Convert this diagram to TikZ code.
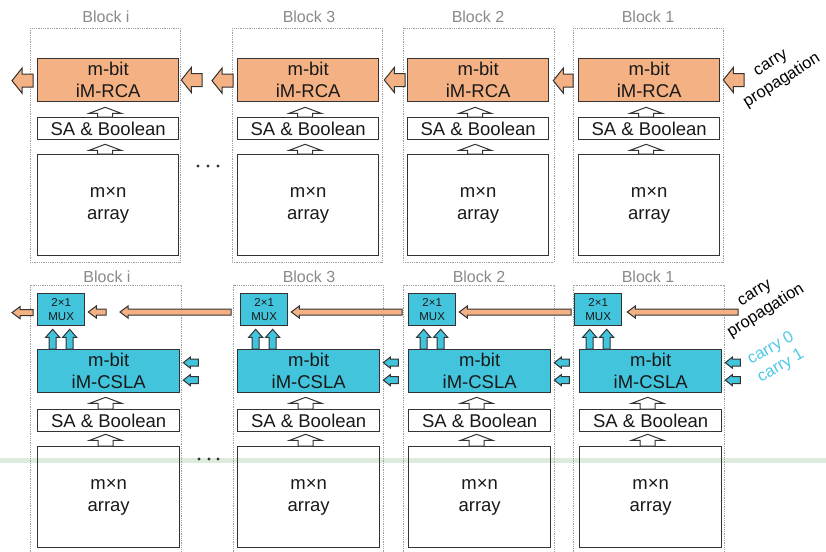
\documentclass[tikz,border=0pt]{standalone}
\usepackage{fontspec}
\setmainfont{Liberation Sans}
\usetikzlibrary{calc}
\definecolor{orf}{HTML}{F4B183}
\definecolor{cyf}{HTML}{41C4DC}
\definecolor{cyt}{HTML}{4FC8E8}
\definecolor{edge}{HTML}{333333}
\definecolor{lbl}{HTML}{8A8A8A}
\definecolor{frm}{HTML}{A0A0A0}
\definecolor{grn}{HTML}{DCEBDC}
% vertical (up) block arrow: x from tip, y from tail and tip
\newcommand\uparr[6]{\path[#1] let \p1=#2, \p2=#3 in (\x2-#5,\y1) -- (\x2-#5,\y2-#6) -- (\x2-#4,\y2-#6) -- (\x2,\y2) -- (\x2+#4,\y2-#6) -- (\x2+#5,\y2-#6) -- (\x2+#5,\y1) -- cycle;}
% horizontal (left) block arrow: y from tail, x from tail and tip
\newcommand\leftarr[6]{\path[#1] let \p1=#2, \p2=#3 in (\x1,\y1+#5) -- (\x2+#6,\y1+#5) -- (\x2+#6,\y1+#4) -- (\x2,\y1) -- (\x2+#6,\y1-#4) -- (\x2+#6,\y1-#5) -- (\x1,\y1-#5) -- cycle;}
\tikzset{
  frame/.style={draw=frm, line width=0.8pt, dash pattern=on 0.9pt off 0.9pt},
  lab/.style={text=lbl, font=\fontsize{16}{19}\selectfont, inner sep=0pt},
  box/.style={draw=edge, line width=1.3pt, inner sep=0pt, align=center, text=black!90,
              font=\fontsize{18.5}{22}\selectfont},
  rcabox/.style={box, fill=orf, minimum width=141, minimum height=43},
  cslabox/.style={box, fill=cyf, minimum width=142, minimum height=43},
  plainbox/.style={box, minimum height=22},
  arraybox/.style={box, minimum height=101},
  muxbox/.style={box, fill=cyf, minimum width=47, minimum height=32,
                 font=\fontsize{11.5}{14}\selectfont},
  hol/.style={draw=edge, fill=white, line width=1pt},
  ora/.style={draw=edge, fill=orf, line width=1pt},
  cya/.style={draw=edge, fill=cyf, line width=1pt},
  carrytxt/.style={font=\fontsize{16.5}{21}\selectfont, align=center, inner sep=0pt, rotate=32},
}
\begin{document}
\begin{tikzpicture}[x=1pt, y=-1pt]
\useasboundingbox (0,0) rectangle (826,551);
\fill[white] (0,0) rectangle (826,551);
\fill[grn] (0,458) rectangle (826,462.5);

% ---------------- top row ----------------
\foreach \k/\xl/\fl/\fr/\lab/\lx in {i/37/30/180/Block i/106, 3/237/232/382/Block 3/309, 2/407/403/554/Block 2/478, 1/578/573/723/Block 1/648}{
  \draw[frame] (\fl,28) rectangle (\fr,262);
  \node[lab] (tl\k) at (\lx,17) {\lab};
  \node[rcabox, anchor=north west] (rca\k) at (\xl,58) {m-bit\\iM-RCA};
  \node[plainbox, minimum width=141, anchor=north west] (tsa\k) at (\xl,117) {SA \& Boolean};
  \node[arraybox, minimum width=141, anchor=north west] (tar\k) at (\xl,154) {m×n\\array};
  \uparr{hol}{(tsa\k.north)}{($(rca\k.south)+(-3,5)$)}{16pt}{7.5pt}{6pt}
  \uparr{hol}{(tar\k.north)}{($(tsa\k.south)+(-3,4)$)}{16pt}{7.5pt}{6pt}
}
\coordinate (ta2) at (202,80);
\coordinate (ta4) at (405,80);
\coordinate (ta6) at (744,80);
\coordinate (tt1) at (12,80);
\coordinate (tt3) at (212,80);
\leftarr{ora}{($(rcai.west)+(-4,0.5)$)}{(tt1)}{12.5pt}{6.5pt}{10pt}
\leftarr{ora}{(ta2)}{($(rcai.east)+(2,0)$)}{12.5pt}{6.5pt}{10pt}
\leftarr{ora}{($(rca3.west)+(-4,0.5)$)}{(tt3)}{12.5pt}{6.5pt}{10pt}
\leftarr{ora}{(ta4)}{($(rca3.east)+(5,0)$)}{12.5pt}{6.5pt}{10pt}
\leftarr{ora}{($(rca1.west)+(-5,0.5)$)}{($(rca2.east)+(4,0)$)}{12.5pt}{6.5pt}{10pt}
\leftarr{ora}{(ta6)}{($(rca1.east)+(3,0)$)}{12.5pt}{6.5pt}{10pt}
\node[carrytxt] (cp1) at (777,73) {carry\\propagation};
\foreach \xx in {198,208,218}{\fill[black!80] (\xx,166) circle (1.6);}

% ---------------- bottom row ----------------
\foreach \k/\xl/\mx/\fl/\fr/\lab/\lx in {i/37/37/30/181/Block i/107, 3/237/240/233/383/Block 3/309, 2/408/408/403/554/Block 2/479, 1/579/574/573/724/Block 1/648}{
  \draw[frame] (\fl,285) rectangle (\fr,565);
  \node[lab] (bl\k) at (\lx,277) {\lab};
  \node[muxbox, anchor=north west] (mux\k) at (\mx,293) {2×1\\MUX};
  \node[cslabox, anchor=north west] (csla\k) at (\xl,349) {m-bit\\iM-CSLA};
  \node[plainbox, minimum width=142, anchor=north west] (bsa\k) at (\xl,409) {SA \& Boolean};
  \node[arraybox, minimum width=142, anchor=north west] (bar\k) at (\xl,446) {m×n\\array};
  \uparr{hol}{(bsa\k.north)}{($(csla\k.south)+(-3,4)$)}{16pt}{7.5pt}{6pt}
  \uparr{hol}{(bar\k.north)}{($(bsa\k.south)+(-3,2)$)}{16pt}{7.5pt}{6pt}
  \uparr{cya}{(csla\k.north)}{($(mux\k.south)+(-8.5,3)$)}{7pt}{3.5pt}{8pt}
  \uparr{cya}{(csla\k.north)}{($(mux\k.south)+(8.5,3)$)}{7pt}{3.5pt}{8pt}
  \leftarr{cya}{($(csla\k.east)+(18,-8.5)$)}{($(csla\k.east)+(3,0)$)}{5.5pt}{3.5pt}{7pt}
  \leftarr{cya}{($(csla\k.east)+(18,9)$)}{($(csla\k.east)+(3,0)$)}{5.5pt}{3.5pt}{7pt}
}
\coordinate (ba2) at (106,312);
\coordinate (ba3) at (231,312);
\coordinate (bt3) at (120,312);
\coordinate (ba4) at (402,312);
\coordinate (ba5) at (571,312);
\coordinate (ba6) at (738,312);
\coordinate (bt1) at (12,312);
\leftarr{ora}{($(muxi.west)+(-4,3)$)}{(bt1)}{6pt}{3pt}{8pt}
\leftarr{ora}{(ba2)}{($(muxi.east)+(3,0)$)}{6pt}{3pt}{8pt}
\leftarr{ora}{(ba3)}{(bt3)}{6pt}{3pt}{8pt}
\leftarr{ora}{(ba4)}{($(mux3.east)+(3,0)$)}{6pt}{3pt}{8pt}
\leftarr{ora}{(ba5)}{($(mux2.east)+(3,0)$)}{6pt}{3pt}{8pt}
\leftarr{ora}{(ba6)}{($(mux1.east)+(5,0)$)}{6pt}{3pt}{8pt}
\node[carrytxt] (cp2) at (761,303) {carry\\propagation};
\node[carrytxt, text=cyt, font=\fontsize{16.5}{20}\selectfont, rotate=-2] (c01) at (776,357.5) {carry 0\\carry 1};
\foreach \xx in {199,209,218}{\fill[black!80] (\xx,459) circle (1.6);}
\end{tikzpicture}
\end{document}
